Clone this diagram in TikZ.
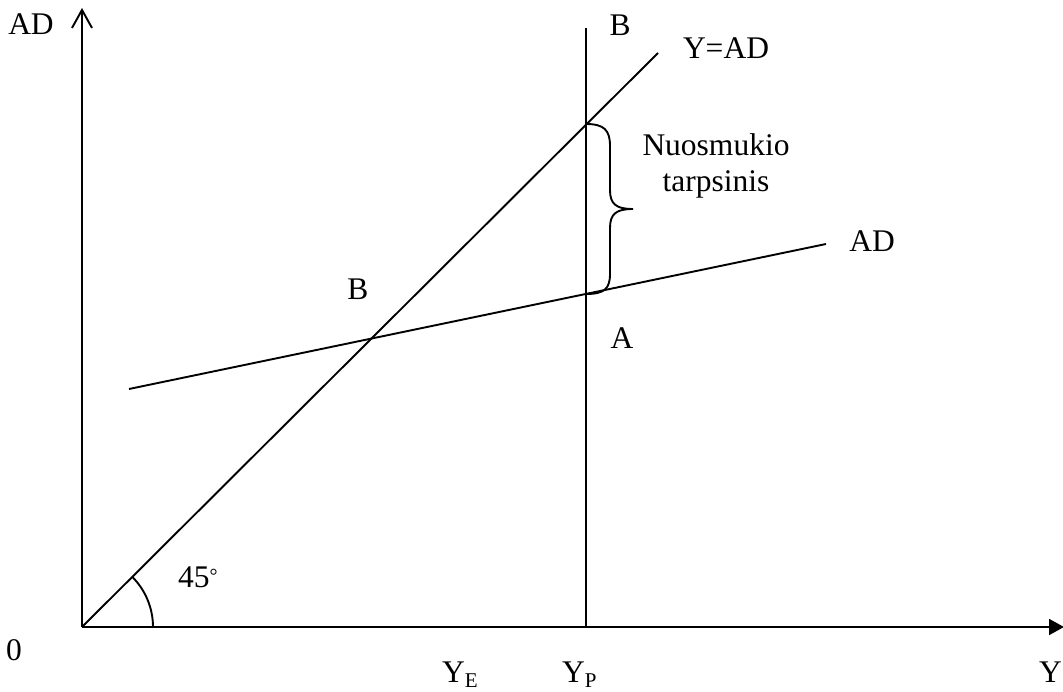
\documentclass[tikz,border=0pt]{standalone}
\usepackage{fontspec}
\setmainfont{Liberation Serif}
\usetikzlibrary{arrows.meta}
\begin{document}
\begin{tikzpicture}[x=1pt,y=-1pt,
  ln/.style={line width=1.9pt},
  lbl/.style={inner sep=0pt,font=\fontsize{31.5}{36}\selectfont}]
\useasboundingbox (0,0) rectangle (1063,692);
\coordinate (O) at (82,627);
\coordinate (ytop) at (82,8);
\coordinate (xend) at (1064,627);
\coordinate (d45) at (658,53);
\coordinate (vtop) at (586,28);
\coordinate (vbot) at (586,627);
\coordinate (adL) at (129,389);
\coordinate (adR) at (826,244);
\coordinate (bt) at (586,124);
\coordinate (bb) at (586,294);
% axes
\draw[ln,-{Straight Barb[length=18pt,width=20pt]}] (O) -- (ytop);
\draw[ln,-{Triangle[length=15pt,width=16pt]}] (O) -- (xend);
% lines
\draw[ln] (O) -- (d45);
\draw[ln] (vbot) -- (vtop);
\draw[ln] (adL) -- (adR);
% angle arc
\draw[ln] ([xshift=71pt]O) arc[start angle=0,end angle=45,radius=71pt];
% brace
\draw[ln] (bt) .. controls (604,124) and (610,130) .. (610,146) -- (610,190)
  .. controls (610,204) and (616,209) .. (633,209)
  .. controls (616,209) and (610,214) .. (610,228) -- (610,274)
  .. controls (610,289) and (604,294) .. (bb);
% labels
\node[lbl] (lAD) at (31,24) {AD};
\node[lbl] (lBt) at (620,25) {B};
\node[lbl] (lYAD) at (726,48) {Y=AD};
\node[lbl,align=center] (lNuo) at (716,166) {Nuosmukio\\tarpsinis};
\node[lbl] (lADr) at (872,241) {AD};
\node[lbl] (lBm) at (358,289) {B};
\node[lbl] (lA) at (622,338) {A};
\node[lbl,anchor=base west] (l45) at (178,587) {45\raisebox{5pt}{\fontsize{20}{20}\selectfont°}};
\node[lbl] (l0) at (14,650) {0};
\node[lbl,anchor=base west] (lYE) at (442,682) {Y\raisebox{-0.18em}{\fontsize{21}{21}\selectfont E}};
\node[lbl,anchor=base west] (lYP) at (562,682) {Y\raisebox{-0.18em}{\fontsize{21}{21}\selectfont P}};
\node[lbl,anchor=base east] (lY) at (1062,682) {Y};
\end{tikzpicture}
\end{document}
